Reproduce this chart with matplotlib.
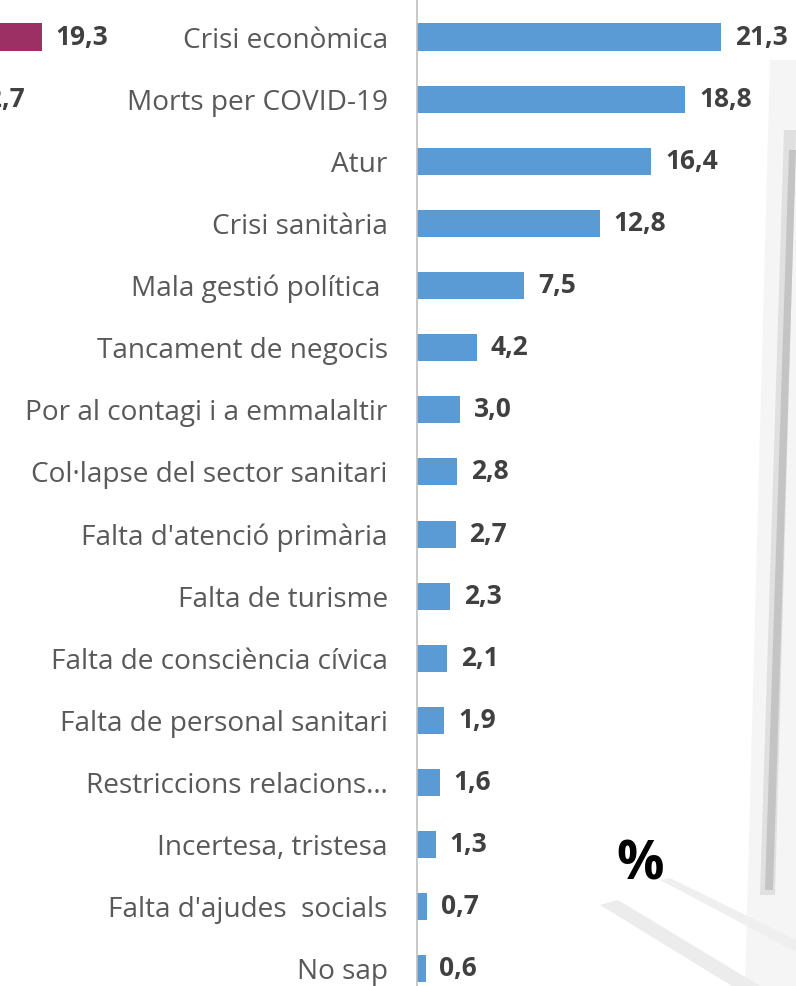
import matplotlib.pyplot as plt
from matplotlib.patches import Polygon

# Data (percentages)
categories = [
    "Crisi econòmica",
    "Morts per COVID-19",
    "Atur",
    "Crisi sanitària",
    "Mala gestió política ",
    "Tancament de negocis",
    "Por al contagi i a emmalaltir",
    "Col·lapse del sector sanitari",
    "Falta d'atenció primària",
    "Falta de turisme",
    "Falta de consciència cívica",
    "Falta de personal sanitari",
    "Restriccions relacions…",
    "Incertesa, tristesa",
    "Falta d'ajudes  socials",
    "No sap",
]
values = [21.3, 18.8, 16.4, 12.8, 7.5, 4.2, 3.0, 2.8, 2.7, 2.3, 2.1, 1.9, 1.6, 1.3, 0.7, 0.6]

# partially visible neighbouring chart (cropped at the left edge)
ghost_values = [19.3, 12.7]

W, H = 796, 986
BLUE = "#5B9BD5"
MAGENTA = "#9C2F63"
LABEL_COLOR = "#595959"
VALUE_COLOR = "#404040"
FONT = "Open Sans"

px_per_unit = 14.27
row_step = 62.13
row0 = 37
ylim = ((H - row0) / row_step, -row0 / row_step)

fig = plt.figure(figsize=(W / 100, H / 100), dpi=100)
fig.patch.set_facecolor("white")


def fig_poly(pts, **kw):
    # pixel coords (from top-left) -> figure fraction
    xy = [(x / W, 1 - y / H) for x, y in pts]
    fig.add_artist(Polygon(xy, closed=True, transform=fig.transFigure,
                           zorder=-1, linewidth=0, **kw))


# faint background photo (window frame)
fig_poly([(770, 60), (796, 60), (796, 986), (745, 986)], color="#F5F5F5")
fig_poly([(784, 130), (796, 130), (775, 895), (760, 895)], color="#E0E0E0")
fig_poly([(789, 150), (796, 150), (773, 890), (765, 890)], color="#C4C4C4")
fig_poly([(600, 905), (618, 900), (760, 986), (732, 986)], color="#ECECEC")
fig_poly([(660, 880), (670, 878), (796, 940), (796, 952)], color="#EFEFEF")

# main chart
axis_x = 417
ax = fig.add_axes([axis_x / W, 0, (W - axis_x) / W, 1])
ax.set_facecolor("none")
ax.barh(range(len(values)), values, height=0.435, color=BLUE)
ax.set_xlim(0, (W - axis_x) / px_per_unit)
ax.set_ylim(*ylim)
ax.set_yticks(range(len(categories)))
ax.set_yticklabels(categories, fontsize=20.2, color=LABEL_COLOR, family=FONT)
ax.tick_params(axis="y", length=0, pad=21)
ax.set_xticks([])
for s in ["top", "right", "bottom"]:
    ax.spines[s].set_visible(False)
ax.spines["left"].set_color("#BFBFBF")
ax.spines["left"].set_linewidth(1.2)

for i, v in enumerate(values):
    ax.annotate(f"{v:.1f}".replace(".", ","), xy=(v, i), xytext=(10, 0),
                textcoords="offset points", va="center", ha="left",
                fontsize=19, fontweight="bold", color=VALUE_COLOR, family=FONT)

# cropped chart on the left (its own scale)
gx = -201
ghost_scale = 12.58
ax2 = fig.add_axes([gx / W, 0, (W - axis_x) / W, 1])
ax2.set_facecolor("none")
ax2.barh(range(len(ghost_values)), ghost_values, height=0.435, color=MAGENTA)
ax2.set_xlim(0, (W - axis_x) / ghost_scale)
ax2.set_ylim(*ylim)
ax2.axis("off")
for i, v in enumerate(ghost_values):
    ax2.annotate(f"{v:.1f}".replace(".", ","), xy=(v, i), xytext=(10, 0),
                 textcoords="offset points", va="center", ha="left",
                 fontsize=19, fontweight="bold", color=VALUE_COLOR, family=FONT)

fig.text(640 / W, 1 - 866 / H, "%", fontsize=38, fontweight="bold",
         color="black", ha="center", va="center", family=FONT)

fig.savefig("out.png", dpi=100, facecolor=fig.get_facecolor())
